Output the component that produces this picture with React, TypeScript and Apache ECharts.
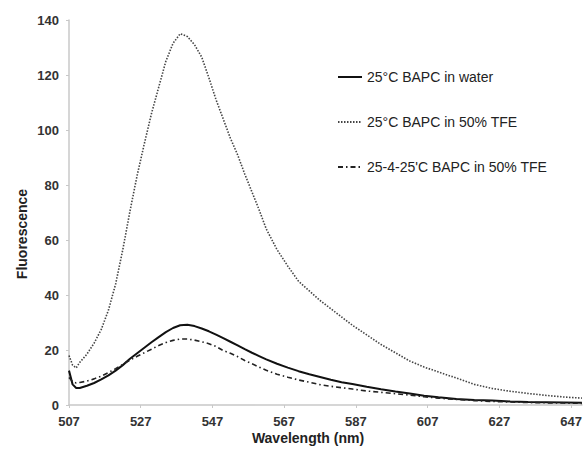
import React, { useEffect, useRef } from "react";
import * as echarts from "echarts";

const wavelengths = [507, 508, 509, 510, 512, 514, 516, 518, 520, 522, 524, 526, 528, 530, 532, 534, 536, 538, 540, 542, 544, 546, 548, 550, 552, 554, 556, 558, 560, 562, 565, 568, 571, 574, 577, 580, 583, 586, 590, 594, 598, 602, 606, 610, 615, 620, 625, 630, 635, 640, 645, 650];

const water = [12.5, 7.5, 6.2, 6.2, 7, 8, 9.3, 10.8, 12.5, 14.5, 16.8, 18.8, 20.8, 22.8, 24.7, 26.5, 28, 29, 29.2, 28.7, 27.8, 26.8, 25.6, 24.3, 23, 21.7, 20.3, 19, 17.8, 16.6, 15, 13.6, 12.3, 11.2, 10.2, 9.2, 8.3, 7.6, 6.6, 5.7, 4.9, 4.2, 3.4, 2.8, 2.2, 1.8, 1.6, 1.3, 1.1, 1, 0.9, 0.8];

const tfe = [18, 14.5, 13.5, 15.5, 18.5, 22.5, 27.5, 34.5, 44, 56.5, 70.5, 83.5, 95, 106, 115.5, 125, 131.5, 135, 134, 131, 126.5, 119, 111, 104, 97, 91, 84, 77.5, 71, 64, 56.5, 50.5, 45, 41.5, 38, 35, 32, 29, 25.5, 22, 19, 16, 13.8, 12, 9.8, 7.5, 6, 5, 4.2, 3.5, 2.9, 2.5];

const cycled = [10, 8.5, 8, 8.2, 8.7, 9.5, 10.5, 11.8, 13.2, 14.8, 16.3, 17.7, 19, 20.3, 21.6, 22.7, 23.5, 24, 24, 23.6, 23, 22.3, 21.3, 19.8, 18.8, 17.6, 16.2, 15, 13.8, 12.6, 11.2, 10.1, 9.1, 8.3, 7.4, 6.8, 6.3, 5.8, 5.1, 4.6, 4.1, 3.6, 3, 2.5, 2, 1.6, 1.3, 1.1, 0.9, 0.8, 0.7, 0.6];

const seriesNames = ["25°C BAPC in water", "25°C BAPC in 50% TFE", "25-4-25'C BAPC in 50% TFE"];

const FONT = "'Liberation Sans', Arial, sans-serif";

export default function App() {
  const ref = useRef<HTMLDivElement>(null);
  useEffect(() => {
    if (!ref.current) return;
    const chart = echarts.init(ref.current, undefined, { renderer: "svg" });
    const pair = (vals: number[]) => wavelengths.map((w, i) => [w, vals[i]]);
    const axisCommon = {
      axisLine: { show: true, lineStyle: { color: "#c8c8c8", width: 1.5 } },
      axisTick: { show: true, length: 3, lineStyle: { color: "#c8c8c8" } },
      splitLine: { show: false },
      axisLabel: { color: "#333", fontSize: 13, fontWeight: "bold", fontFamily: FONT, margin: 10 },
    };
    chart.setOption({
      animation: false,
      backgroundColor: "#fff",
      grid: { left: 69, right: 0, top: 20, bottom: 47 },
      xAxis: {
        type: "value",
        min: 507,
        max: 650,
        interval: 20,
        ...axisCommon,
        axisLabel: { ...axisCommon.axisLabel, showMaxLabel: false },
      },
      yAxis: {
        type: "value",
        min: 0,
        max: 140,
        interval: 20,
        ...axisCommon,
      },
      legend: {
        orient: "vertical",
        left: 337,
        top: 70,
        padding: 0,
        itemWidth: 24,
        itemHeight: 14,
        itemGap: 31,
        itemStyle: { opacity: 0 },
        textStyle: { fontSize: 14, color: "#222", fontFamily: FONT },
        data: seriesNames,
      },
      graphic: [
        {
          type: "text",
          x: 22,
          y: 234,
          rotation: Math.PI / 2,
          style: {
            text: "Fluorescence",
            fontSize: 14,
            fontWeight: "bold",
            fontFamily: FONT,
            fill: "#222",
            align: "center",
            verticalAlign: "middle",
          },
        },
        {
          type: "text",
          x: 308,
          y: 438,
          style: {
            text: "Wavelength (nm)",
            fontSize: 14,
            fontWeight: "bold",
            fontFamily: FONT,
            fill: "#222",
            align: "center",
            verticalAlign: "middle",
          },
        },
      ],
      series: [
        {
          name: seriesNames[0],
          type: "line",
          symbol: "none",
          data: pair(water),
          color: "#111",
          lineStyle: { color: "#111", width: 2, type: "solid" },
        },
        {
          name: seriesNames[1],
          type: "line",
          symbol: "none",
          data: pair(tfe),
          color: "#444",
          lineStyle: { color: "#444", width: 1.6, type: [1.5, 1.5] },
        },
        {
          name: seriesNames[2],
          type: "line",
          symbol: "none",
          data: pair(cycled),
          color: "#222",
          lineStyle: { color: "#222", width: 1.6, type: [5, 3, 1.5, 3] },
        },
      ],
    });
    return () => chart.dispose();
  }, []);
  return (
    <div
      ref={ref}
      style={{ position: "fixed", left: 0, top: 0, width: 585, height: 452, background: "#fff" }}
    />
  );
}
